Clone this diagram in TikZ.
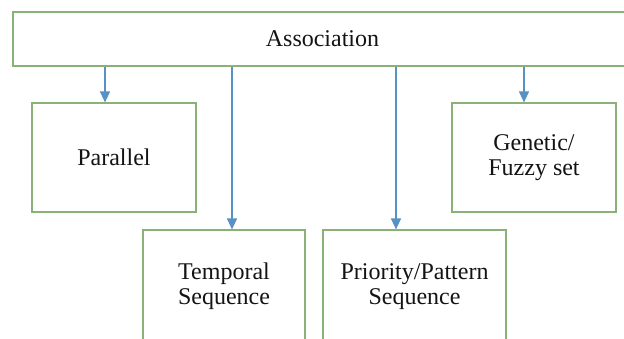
\documentclass[tikz,border=0pt]{standalone}
\usepackage{fontspec}
\setmainfont{Liberation Serif}
\usetikzlibrary{arrows.meta}
\definecolor{boxgreen}{RGB}{138,178,120}
\definecolor{arrblue}{RGB}{88,146,196}
\definecolor{txt}{RGB}{20,20,20}
\begin{document}
\begin{tikzpicture}[x=1pt,y=-1pt,
  box/.style={draw=boxgreen, line width=1.2pt, rectangle, inner sep=0pt,
    text=txt, align=center, font=\fontsize{24}{25}\selectfont},
  arr/.style={draw=arrblue, line width=1.4pt,
    -{Triangle[width=10pt,length=11pt]}, arrblue}]
\useasboundingbox (0,0) rectangle (624,338);
\clip (0,0) rectangle (624,338);
\fill[white] (0,0) rectangle (624,338);
\node[box, minimum width=619pt, minimum height=54pt] (assoc) at (322.5,39) {Association};
\node[box, minimum width=164pt, minimum height=109pt] (parallel) at (114,157.5) {Parallel};
\node[box, minimum width=164pt, minimum height=109pt] (genetic) at (534,157.5) {Genetic/\\Fuzzy set};
\node[box, minimum width=162pt, minimum height=114pt] (temporal) at (224,287)
  {\raisebox{4pt}{\begin{tabular}{@{}c@{}}Temporal\\Sequence\end{tabular}}};
\node[box, minimum width=183pt, minimum height=114pt] (priority) at (414.5,287)
  {\raisebox{4pt}{\begin{tabular}{@{}c@{}}Priority/Pattern\\Sequence\end{tabular}}};
\coordinate (x1) at (105,0);
\coordinate (x2) at (232,0);
\coordinate (x3) at (396,0);
\coordinate (x4) at (524,0);
\draw[arr] (assoc.south -| x1) -- (parallel.north -| x1);
\draw[arr] (assoc.south -| x2) -- (temporal.north -| x2);
\draw[arr] (assoc.south -| x3) -- (priority.north -| x3);
\draw[arr] (assoc.south -| x4) -- (genetic.north -| x4);
\end{tikzpicture}
\end{document}
